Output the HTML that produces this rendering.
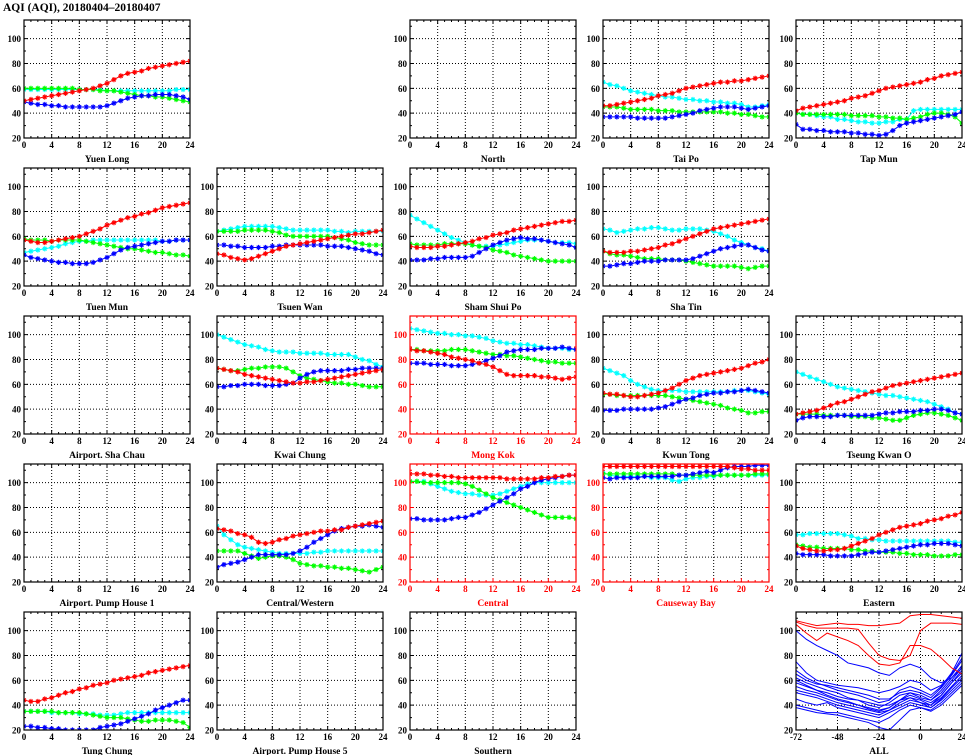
<!DOCTYPE html>
<html><head><meta charset="utf-8"><style>
body{margin:0;background:#fff;}
svg{display:block;font-family:"Liberation Serif",serif;font-weight:bold;}
</style></head><body>
<svg id="chart" width="965" height="755" viewBox="0 0 965 755" xmlns="http://www.w3.org/2000/svg">
<text x="3" y="11" font-size="11.5" fill="#000">AQI (AQI), 20180404–20180407</text>
</svg>
<script>
// ---- data ----
const hours = [0,1,2,3,4,5,6,7,8,9,10,11,12,13,14,15,16,17,18,19,20,21,22,23,24];
const yTicks = [20,40,60,80,100];
const xTicks = [0,4,8,12,16,20,24];
const allXTicks = [-72,-48,-24,0,24];
const allHours = [-72,-66,-60,-54,-48,-42,-36,-30,-24,-18,-12,-6,0,6,12,18,24];
const stations = ["Yuen Long","","North","Tai Po","Tap Mun","Tuen Mun","Tsuen Wan","Sham Shui Po","Sha Tin","","Airport. Sha Chau","Kwai Chung","Mong Kok","Kwun Tong","Tseung Kwan O","Airport. Pump House 1","Central/Western","Central","Causeway Bay","Eastern","Tung Chung","Airport. Pump House 5","Southern","","ALL"];
const roadside = ["Mong Kok","Central","Causeway Bay"];
const seriesColors = ["#ff0000","#00ffff","#00ff00","#0000ff"];
const redData = {
"Yuen Long":[50,51,52,53,54,55,56,57,58,59,60,62,64,67,70,72,73,74,76,77,78,79,80,81,82],
"Tai Po":[46,46,47,48,49,50,51,52,54,55,56,58,60,61,62,63,64,65,65,66,66,67,68,69,70],
"Tap Mun":[42,44,45,46,47,48,49,50,52,53,54,56,58,60,61,62,63,64,65,67,68,70,71,72,73],
"Tuen Mun":[57,56,55,55,56,57,58,59,60,62,64,66,69,71,73,75,76,78,79,81,83,84,85,86,87],
"Tsuen Wan":[46,45,43,42,41,42,44,46,48,50,52,53,54,55,56,57,58,59,60,61,62,62,63,64,65],
"Sham Shui Po":[52,51,51,51,52,52,53,54,55,56,58,59,61,62,63,65,66,67,68,69,70,71,72,72,73],
"Sha Tin":[48,47,47,47,48,48,49,50,51,53,54,56,58,60,62,64,66,67,68,69,70,71,72,73,74],
"Kwai Chung":[73,72,71,70,68,67,66,65,64,63,62,61,61,62,62,63,64,65,66,67,68,69,70,71,72],
"Mong Kok":[88,87,87,86,85,84,82,81,80,79,77,76,74,71,68,67,67,67,67,66,66,65,64,65,66],
"Kwun Tong":[53,52,52,51,50,50,51,52,53,55,57,60,63,65,67,68,69,70,71,72,73,75,77,78,80],
"Tseung Kwan O":[36,37,38,39,41,43,45,46,48,50,52,54,55,57,59,60,61,62,63,64,65,66,67,68,69],
"Central/Western":[63,62,61,59,58,56,52,51,52,54,55,57,58,59,60,61,61,62,62,64,65,66,67,68,69],
"Central":[107,107,107,106,106,105,105,104,104,104,104,104,104,104,103,103,103,103,103,104,104,105,105,106,106],
"Causeway Bay":[113,113,113,113,113,113,113,113,113,113,113,113,113,113,113,113,113,113,113,112,111,111,110,110,110],
"Eastern":[49,47,46,45,45,46,46,47,49,51,53,55,58,60,62,64,65,66,67,69,70,71,73,74,76],
"Tung Chung":[44,43,43,45,46,48,50,51,53,54,56,57,58,60,61,62,63,64,66,67,68,69,70,71,72]
};
const cyanData = {
"Yuen Long":[59,59,59,59,59,59,59,59,59,59,59,59,58,58,58,58,58,58,58,58,58,58,59,59,59],
"Tai Po":[65,63,62,60,58,57,56,55,54,53,53,52,51,51,50,50,49,49,48,48,47,45,45,46,47],
"Tap Mun":[40,39,39,38,37,37,35,35,34,33,33,32,32,33,33,35,35,42,43,43,43,43,43,43,43],
"Tuen Mun":[47,48,49,50,51,52,54,55,56,56,57,57,57,57,57,57,57,57,57,57,56,56,57,57,57],
"Tsuen Wan":[64,65,66,67,68,68,68,68,68,67,66,65,65,65,65,65,65,64,64,63,64,64,64,64,64],
"Sham Shui Po":[77,74,71,68,65,62,59,57,55,53,52,52,52,53,54,55,56,57,57,57,56,55,55,55,54],
"Sha Tin":[66,65,63,64,65,66,66,67,67,66,65,65,66,66,66,65,64,62,60,57,55,53,51,50,48],
"Kwai Chung":[100,98,96,94,92,91,90,88,87,86,86,86,85,85,85,85,84,84,84,84,82,80,79,76,74],
"Mong Kok":[105,104,103,102,101,101,100,100,99,99,98,97,95,94,93,93,92,92,91,90,89,89,89,88,88],
"Kwun Tong":[73,71,69,67,63,60,58,56,55,55,55,55,54,54,54,54,54,54,54,55,55,55,54,53,52],
"Tseung Kwan O":[70,68,66,64,62,60,58,57,56,55,54,53,52,51,51,50,49,48,47,46,44,42,40,37,36],
"Central/Western":[65,58,54,50,48,47,46,45,44,43,43,43,43,43,44,44,45,45,45,45,45,45,45,45,45],
"Central":[101,101,101,99,97,95,93,92,91,91,90,90,90,91,93,95,97,99,100,100,100,100,100,100,100],
"Causeway Bay":[108,106,105,105,105,105,105,104,104,104,102,101,103,104,104,105,105,106,106,106,106,106,106,106,106],
"Eastern":[58,58,59,59,59,59,59,58,57,55,55,54,54,53,53,53,53,53,53,53,53,53,53,52,52],
"Tung Chung":[35,35,35,35,34,34,34,34,33,33,33,32,32,32,33,34,34,34,34,34,34,34,34,34,34]
};
const greenData = {
"Yuen Long":[60,60,60,60,60,60,60,60,59,59,59,58,58,58,57,56,55,54,54,53,53,52,51,50,49],
"Tai Po":[45,45,45,44,43,43,43,43,42,42,42,41,41,41,41,41,41,41,40,40,39,39,38,37,37],
"Tap Mun":[40,39,39,39,39,39,39,39,38,38,38,38,37,37,36,36,35,36,37,39,40,40,39,37,32],
"Tuen Mun":[58,57,57,57,56,57,57,57,57,56,55,54,53,52,51,50,50,49,48,47,47,46,45,45,44],
"Tsuen Wan":[64,64,64,64,65,65,65,65,64,63,61,60,60,60,60,60,60,59,58,57,55,54,53,53,53],
"Sham Shui Po":[54,53,53,53,53,54,54,54,54,53,52,51,49,48,47,45,44,43,42,41,40,40,40,40,40],
"Sha Tin":[48,46,45,45,44,43,42,42,42,41,41,41,40,39,38,37,36,36,36,36,35,34,35,36,36],
"Kwai Chung":[73,72,71,71,72,73,73,74,74,74,73,70,67,65,64,63,62,61,61,60,60,59,58,58,58],
"Mong Kok":[88,88,87,87,87,87,88,88,88,87,86,85,84,84,83,83,82,81,80,79,78,78,77,77,77],
"Kwun Tong":[52,52,51,51,51,51,51,51,51,51,50,49,48,47,46,45,44,43,41,40,39,37,37,38,38],
"Tseung Kwan O":[36,36,36,36,35,35,35,35,34,34,34,33,33,32,31,31,33,35,36,37,37,36,35,33,31],
"Central/Western":[45,45,45,45,43,41,39,40,41,41,40,38,35,34,33,33,32,32,31,31,30,29,28,30,32],
"Central":[101,101,100,100,100,100,100,100,99,97,94,91,88,86,84,82,80,78,76,74,72,72,72,72,71],
"Causeway Bay":[107,107,107,107,107,107,107,107,107,107,107,106,106,106,106,106,106,106,106,106,106,106,107,107,107],
"Eastern":[50,49,48,48,47,47,47,47,46,46,45,45,44,44,44,43,43,42,42,42,41,41,41,42,42],
"Tung Chung":[35,35,35,35,35,34,34,34,34,33,32,31,30,30,30,29,28,27,27,28,28,28,27,26,22]
};
const blueData = {
"Yuen Long":[49,48,47,47,46,46,45,45,45,45,45,45,46,48,50,52,53,54,54,55,55,55,54,53,51],
"Tai Po":[37,37,37,37,37,36,36,36,36,36,37,38,39,40,42,43,44,45,45,45,44,43,44,45,46],
"Tap Mun":[31,27,27,26,26,25,25,25,24,24,23,23,22,23,26,30,32,33,34,35,36,37,38,39,41],
"Tuen Mun":[45,43,42,41,40,39,39,38,38,38,39,41,43,46,49,51,52,53,54,55,56,56,57,57,57],
"Tsuen Wan":[53,53,52,52,51,51,51,51,52,52,53,53,53,53,53,53,52,52,52,51,50,49,48,46,45],
"Sham Shui Po":[41,41,41,42,42,43,43,43,43,44,47,50,53,55,57,58,59,58,58,57,56,55,54,53,51],
"Sha Tin":[36,36,37,38,38,39,40,40,40,41,41,41,41,42,44,46,48,50,51,52,53,53,51,49,48],
"Kwai Chung":[58,58,59,59,60,60,60,59,59,59,60,61,65,68,70,71,71,71,71,72,72,73,73,73,73],
"Mong Kok":[77,77,77,76,76,76,75,75,75,76,77,79,81,83,86,87,88,88,88,89,89,89,90,89,88],
"Kwun Tong":[39,39,39,40,40,40,40,40,41,42,44,46,48,49,51,52,53,53,54,54,55,56,55,54,53],
"Tseung Kwan O":[31,33,34,34,34,34,35,35,35,35,35,35,36,37,37,38,38,38,39,39,40,40,39,37,36],
"Central/Western":[32,34,35,36,38,40,42,42,42,42,42,43,45,48,52,55,58,61,63,64,65,65,66,65,64],
"Central":[71,71,70,70,70,70,71,72,72,74,76,79,82,85,88,91,95,97,100,102,103,104,105,106,106],
"Causeway Bay":[104,103,104,104,104,104,105,105,105,105,105,106,106,107,108,109,108,110,112,113,113,113,114,114,114],
"Eastern":[43,42,42,42,42,41,41,41,41,42,43,44,44,45,46,47,48,49,50,50,51,51,51,50,49],
"Tung Chung":[23,23,22,22,21,21,20,20,20,20,20,22,23,24,25,27,29,31,33,36,38,40,42,44,44]
};
const allRedLines = [
[108,106,104,105,106,105,105,104,104,105,106,112,113,113,112,111,110],
[107,104,102,102,102,102,101,90,80,77,76,80,100,106,106,106,105],
[105,98,92,98,95,92,88,80,73,72,74,88,88,85,78,70,65]
];
const allBlueLines = [
[100,93,88,84,80,74,72,70,66,64,70,73,70,62,58,62,70],
[75,66,60,58,56,55,54,52,50,52,55,60,58,52,56,65,78],
[68,62,58,55,52,50,48,45,42,44,52,55,52,48,55,66,82],
[65,60,57,56,54,52,50,48,45,45,50,52,50,46,54,64,76],
[62,58,55,52,50,46,44,40,38,42,48,50,46,44,52,62,72],
[60,56,52,50,47,45,44,42,40,40,44,50,48,44,50,60,70],
[58,55,52,48,45,43,40,38,36,38,44,48,45,42,48,58,68],
[55,52,50,47,44,42,40,37,35,38,44,46,44,40,48,58,66],
[52,50,48,45,42,40,38,36,34,36,42,46,42,40,46,55,64],
[50,48,46,43,40,38,36,34,32,36,40,44,42,38,45,54,62],
[45,42,40,42,38,36,34,32,30,34,38,42,40,38,44,52,60],
[40,38,36,34,34,32,30,28,26,30,36,40,38,36,42,50,58],
[38,36,34,33,32,30,28,26,22,20,28,36,38,35,40,48,56]
];
// ---- drawing ----
const NS = "http://www.w3.org/2000/svg";
const svg = document.getElementById("chart");
const PW = 166, PH = 118, YMIN = 20, YMAX = 115;
function mk(tag, attrs, parent){
  const e = document.createElementNS(NS, tag);
  for (const k in attrs) e.setAttribute(k, attrs[k]);
  parent.appendChild(e);
  return e;
}
function slug(s){return s.toLowerCase().replace(/[^a-z0-9]+/g,'-').replace(/^-|-$/g,'');}

stations.forEach((name, idx) => {
  if (!name) return;
  const c = idx % 5, r = Math.floor(idx / 5);
  const x0 = 24 + 193 * c, y0 = 20 + 148 * r;
  const isAll = name === "ALL";
  const xmin = isAll ? -72 : 0, xmax = 24;
  const col = roadside.includes(name) ? "#ff0000" : "#000";
  const sx = v => x0 + (v - xmin) / (xmax - xmin) * PW;
  const sy = v => y0 + PH - (v - YMIN) / (YMAX - YMIN) * PH;
  const g = mk("g", {}, svg);
  
  
  // grid
  yTicks.slice(1).forEach(t => {
    const gl = mk("line", {x1:x0, x2:x0+PW, y1:sy(t), y2:sy(t), stroke:"#000", "stroke-width":1, "stroke-dasharray":"1,2"}, g);
    
    
  });
  const xt = isAll ? allXTicks : xTicks;
  xt.slice(1, -1).forEach(t => {
    const gl = mk("line", {x1:sx(t), x2:sx(t), y1:y0, y2:y0+PH, stroke:"#000", "stroke-width":1, "stroke-dasharray":"1,2"}, g);
    
    
  });
  // ticks
  let tp = "";
  for (let v = 20; v <= 110; v += 10) {
    const L = v % 20 === 0 ? 4 : 2;
    tp += `M${x0},${sy(v)}h${L}M${x0+PW},${sy(v)}h${-L}`;
  }
  const step = isAll ? 6 : 1;
  for (let v = xmin; v <= xmax; v += step) {
    const L = (v - xmin) % (isAll ? 24 : 4) === 0 ? 4 : 2;
    tp += `M${sx(v)},${y0+PH}v${-L}M${sx(v)},${y0}v${L}`;
  }
  const ticks = mk("path", {d:tp, stroke:col, "stroke-width":1, fill:"none"}, g);
  
  
  // tick labels
  yTicks.forEach(t => {
    const tl = mk("text", {x:x0-3, y:sy(t)+3.5, "font-size":9, "text-anchor":"end", fill:col}, g);
    tl.textContent = t;
    
    
  });
  xt.forEach(t => {
    const tl = mk("text", {x:sx(t), y:y0+PH+10, "font-size":9, "text-anchor":"middle", fill:col}, g);
    tl.textContent = t;
    
    
  });
  const ttl = mk("text", {x:x0+PW/2, y:y0+PH+24, "font-size":9.5, "text-anchor":"middle", fill:col}, g);
  ttl.textContent = name;
  
  
  // series
  const clip = "clip" + idx;
  const cp = mk("clipPath", {id:clip}, g);
  mk("rect", {x:x0, y:y0, width:PW, height:PH}, cp);
  const sg = mk("g", {"clip-path":`url(#${clip})`}, g);
  if (isAll) {
    const drawAll = (arr, color, nm) => arr.forEach(vals => {
      const pl = mk("polyline", {points: vals.map((v,i)=>sx(allHours[i])+","+sy(v)).join(" "), fill:"none", stroke:color, "stroke-width":1}, sg);
      
      
    });
    drawAll(allBlueLines, "#0000ff", "all-blue-line");
    drawAll(allRedLines, "#ff0000", "all-red-line");
  } else {
    const sets = [cyanData, greenData, blueData, redData];
    const colorsOrd = [seriesColors[1], seriesColors[2], seriesColors[3], seriesColors[0]];
    const names = ["cyan-series","green-series","blue-series","red-series"];
    sets.forEach((set, si) => {
      const vals = set[name];
      if (!vals) return;
      const color = colorsOrd[si];
      const pl = mk("polyline", {points: vals.map((v,i)=>sx(hours[i])+","+sy(v)).join(" "), fill:"none", stroke:color, "stroke-width":1}, sg);
      
      
      let d = "";
      const s = 2.6;
      vals.forEach((v,i) => {
        const px = sx(hours[i]), py = sy(v);
        d += `M${px-s},${py}h${2*s}M${px},${py-s}v${2*s}M${px-s*0.7},${py-s*0.7}l${1.4*s},${1.4*s}M${px-s*0.7},${py+s*0.7}l${1.4*s},${-1.4*s}`;
      });
      const mkp = mk("path", {d, stroke:color, "stroke-width":1.1, fill:"none"}, sg);
      
      
    });
  }
  const fr = mk("rect", {x:x0, y:y0, width:PW, height:PH, fill:"none", stroke:col, "stroke-width":1.2}, g);
  
  
});
</script>
</body></html>
